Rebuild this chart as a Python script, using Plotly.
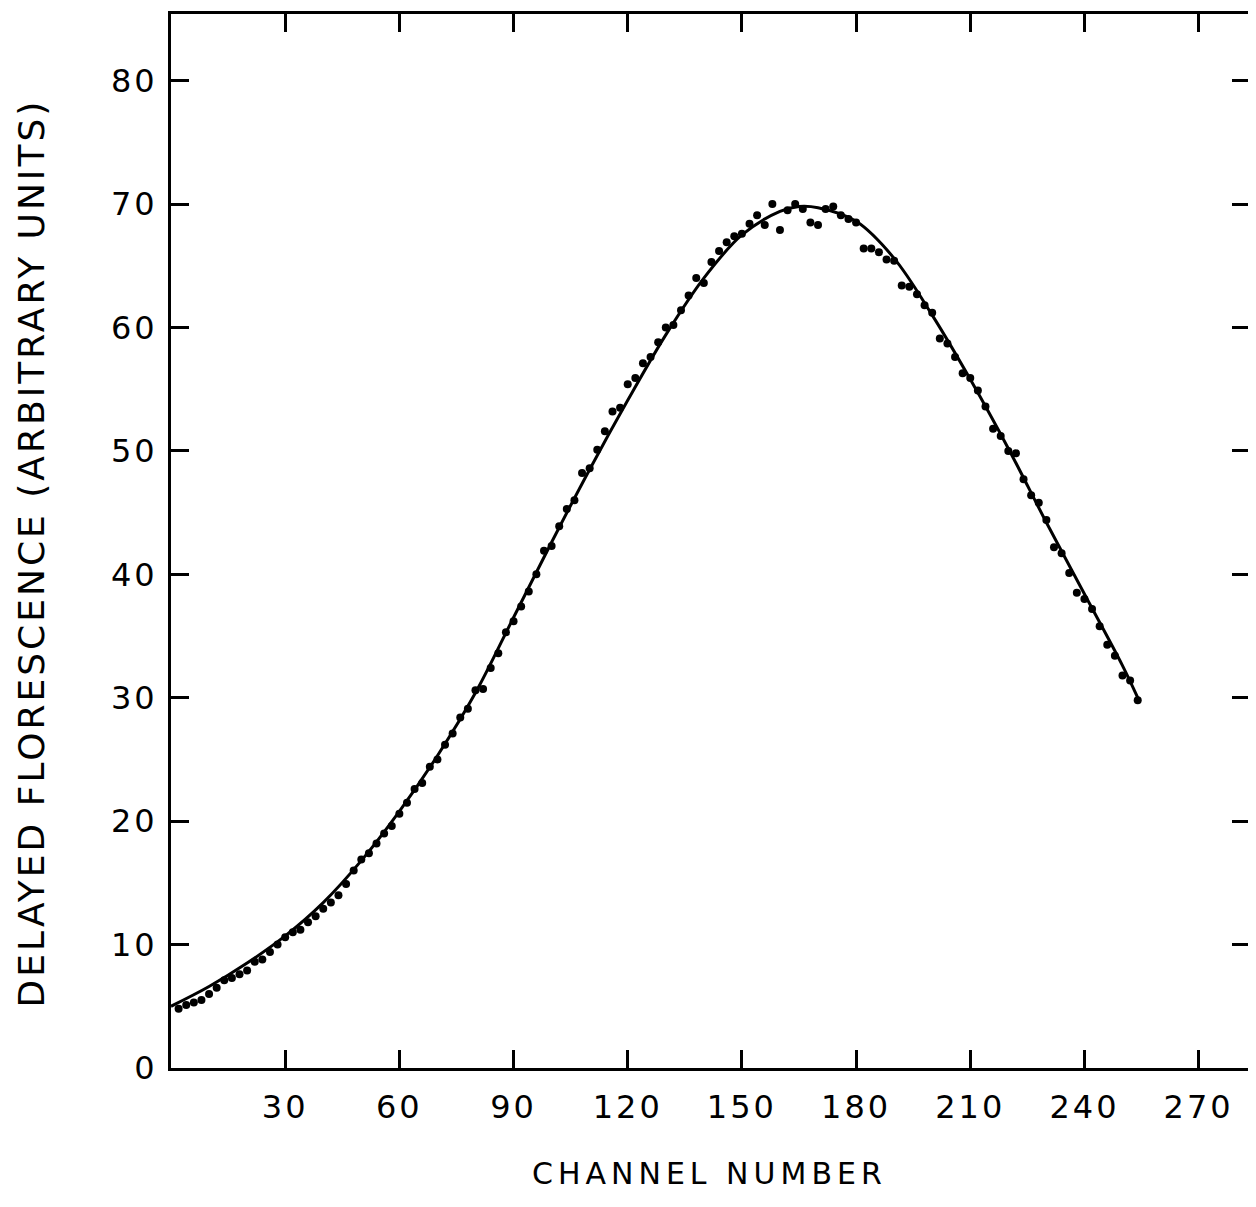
import plotly.graph_objects as go

# Fitted curve
curve_x = [0, 10, 20, 30, 40, 50, 60, 70, 80, 90, 100, 110, 120, 130, 140, 150,
           160, 165, 170, 180, 190, 200, 210, 220, 230, 240, 250, 254]
curve_y = [5.0, 6.6, 8.5, 10.7, 13.4, 16.8, 20.8, 25.3, 30.4, 36.5, 42.6, 48.5,
           54.1, 59.4, 64.0, 67.5, 69.4, 69.8, 69.7, 68.6, 65.6, 61.0, 55.8,
           50.2, 44.2, 38.4, 32.6, 30.0]

dot_x = list(range(2, 256, 2))
dot_y = [4.8, 5.1, 5.3, 5.5, 6.0, 6.5, 7.1, 7.3, 7.6, 7.9,
         8.6, 8.8, 9.4, 10.0, 10.6, 11.0, 11.2, 11.8, 12.3, 12.9,
         13.4, 14.0, 14.9, 16.0, 16.9, 17.4, 18.2, 19.0, 19.6, 20.6,
         21.5, 22.6, 23.1, 24.4, 25.0, 26.2, 27.1, 28.4, 29.1, 30.6,
         30.7, 32.4, 33.6, 35.3, 36.2, 37.4, 38.6, 40.0, 41.9, 42.3,
         43.9, 45.3, 46.0, 48.2, 48.6, 50.1, 51.6, 53.2, 53.5, 55.4,
         55.9, 57.1, 57.6, 58.8, 60.0, 60.2, 61.4, 62.6, 64.0, 63.6,
         65.3, 66.2, 66.9, 67.4, 67.6, 68.4, 69.1, 68.3, 70.0, 67.9,
         69.5, 70.0, 69.6, 68.5, 68.3, 69.6, 69.8, 69.1, 68.8, 68.5,
         66.4, 66.4, 66.1, 65.5, 65.4, 63.4, 63.3, 62.7, 61.8, 61.2,
         59.1, 58.7, 57.6, 56.3, 55.9, 54.9, 53.6, 51.8, 51.2, 50.0,
         49.8, 47.7, 46.4, 45.8, 44.4, 42.2, 41.7, 40.1, 38.5, 38.0,
         37.2, 35.8, 34.3, 33.4, 31.8, 31.4, 29.8]

x_ticks = [30, 60, 90, 120, 150, 180, 210, 240, 270]
y_ticks = [0, 10, 20, 30, 40, 50, 60, 70, 80]
x_title = "CHANNEL NUMBER"
y_title = "DELAYED FLORESCENCE (ARBITRARY UNITS)"


def spaced(s, px):
    return f'<span style="letter-spacing:{px}px">{s}</span>'


fig = go.Figure()
fig.add_trace(go.Scatter(x=dot_x, y=dot_y, mode="markers",
                         marker=dict(color="black", size=8), showlegend=False))
fig.add_trace(go.Scatter(x=curve_x, y=curve_y, mode="lines", line_shape="spline",
                         line=dict(color="black", width=3), showlegend=False))

tickfont = dict(family="DejaVu Sans", size=32, color="black")

# page body has an 8px margin; figure is sized to fit inside the window
W, H = 1248, 1199
L, T, R, B = 163, 6, 3, 139
fig.update_layout(
    width=W, height=H,
    margin=dict(l=L, r=R, t=T, b=B),
    paper_bgcolor="white", plot_bgcolor="white",
    xaxis=dict(range=[0, 283.5], tickvals=x_ticks,
               ticktext=[spaced(str(v), 3) for v in x_ticks],
               ticks="inside", ticklen=18, tickwidth=3, tickcolor="black",
               showline=True, linewidth=3, linecolor="black", mirror="ticks",
               showgrid=False, zeroline=False, tickfont=tickfont,
               ticklabelstandoff=9),
    yaxis=dict(range=[0, 85.4], tickvals=y_ticks,
               ticktext=[spaced(str(v), 3) for v in y_ticks],
               ticks="inside", ticklen=18, tickwidth=3, tickcolor="black",
               showline=True, linewidth=3, linecolor="black", mirror="ticks",
               showgrid=False, zeroline=False, tickfont=tickfont,
               ticklabelstandoff=4),
)
pw = W - L - R
ph = H - T - B
# positions given in window pixels relative to plot area (left 171, bottom 1068)
fig.add_annotation(text=spaced(x_title, 5), x=(711 - 171) / pw, y=(1068 - 1173) / ph,
                   xref="paper", yref="paper", xanchor="center", yanchor="middle",
                   showarrow=False, font=dict(family="DejaVu Sans", size=30, color="black"))
fig.add_annotation(text=spaced(y_title, 3), x=(31 - 171) / pw, y=(1068 - 553) / ph,
                   xref="paper", yref="paper", xanchor="center", yanchor="middle",
                   showarrow=False, textangle=-90,
                   font=dict(family="DejaVu Sans", size=36, color="black"))

fig.write_html("out.html")
